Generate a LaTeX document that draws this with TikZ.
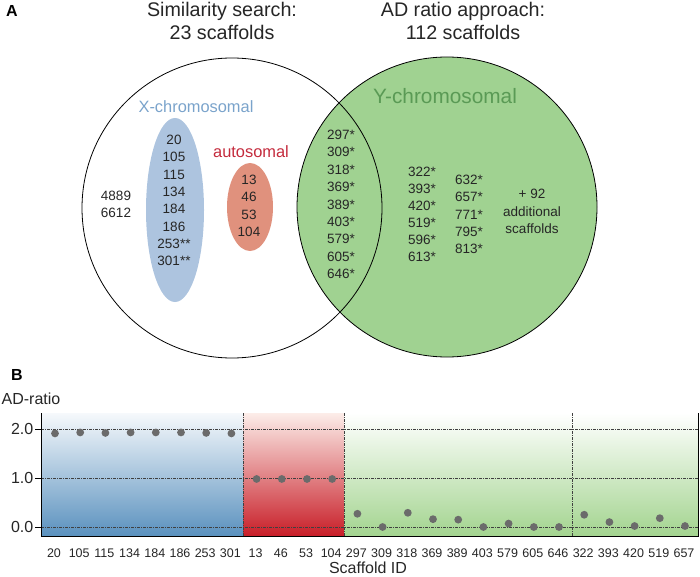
\documentclass[tikz,border=0pt]{standalone}
\usepackage{fontspec}
\setmainfont{Liberation Sans}
\definecolor{vgreen}{HTML}{A0D291}
\definecolor{xblue}{HTML}{ADC4DF}
\definecolor{aorange}{HTML}{E0917D}
\definecolor{xlab}{HTML}{7AA3CB}
\definecolor{alab}{HTML}{C42A3C}
\definecolor{ylab}{HTML}{5A9A55}
\definecolor{bluetop}{HTML}{F6F9FC}
\definecolor{bluebot}{HTML}{5A91BE}
\definecolor{redtop}{HTML}{FCEDE9}
\definecolor{redbot}{HTML}{C81E28}
\definecolor{greenbot}{HTML}{A3D48F}
\definecolor{dotgray}{HTML}{6B6B6B}
\definecolor{gridgray}{HTML}{404040}
\begin{document}
\begin{tikzpicture}[x=1pt,y=-1pt,
  num/.style={font=\fontsize{13.5}{17.3}\selectfont, align=center, inner sep=0pt, text=black!85},
  title/.style={font=\fontsize{19.7}{22}\selectfont, align=center, inner sep=0pt, text=black!85},
  panel/.style={font=\fontsize{16}{18}\selectfont\bfseries, inner sep=0pt},
  grid/.style={gridgray, line width=0.6pt, dash pattern=on 3pt off 1pt on 1pt off 1pt},
  ticklab/.style={font=\fontsize{12.5}{14}\selectfont, inner sep=0pt, text=black!85},
  axlab/.style={font=\fontsize{16}{18}\selectfont, inner sep=0pt, text=black!85},
  dot/.style={fill=dotgray}
]
\useasboundingbox (0,0) rectangle (700,577);

% ---------- Panel A ----------
\node[panel, anchor=center] (A) at (12,11) {A};
\node[title] (t1) at (222,21) {Similarity search:\\[1pt]23 scaffolds};
\node[title] (t2) at (463,21) {AD ratio approach:\\[1pt]112 scaffolds};

\fill[vgreen] (447,207) circle (150pt);
\fill[xblue] (175,210) ellipse [x radius=29pt, y radius=92pt];
\fill[aorange] (250,207) ellipse [x radius=23pt, y radius=44pt];
\draw[black, line width=0.8pt] (232,208) circle (150pt);
\draw[black, line width=0.8pt] (447,207) circle (150pt);

\node[font=\fontsize{16.4}{18}\selectfont, text=xlab, inner sep=0pt] (xl) at (196,107) {X-chromosomal};
\node[font=\fontsize{16.4}{18}\selectfont, text=alab, inner sep=0pt] (al) at (251,152) {autosomal};
\node[font=\fontsize{20.8}{22}\selectfont, text=ylab, inner sep=0pt] (yl) at (445,96) {Y-chromosomal};

\node[num] (xlist) at (174,200.5) {20\\105\\115\\134\\184\\186\\253**\\301**};
\node[num] (alist) at (249,206) {13\\46\\53\\104};
\node[num] (olist) at (116,204.5) {4889\\6612};
\node[num, font=\fontsize{13.5}{17.4}\selectfont] (ovl) at (341,204.5) {297*\\309*\\318*\\369*\\389*\\403*\\579*\\605*\\646*};
\node[num, font=\fontsize{13.5}{17}\selectfont] (c2) at (422,214.5) {322*\\393*\\420*\\519*\\596*\\613*};
\node[num, font=\fontsize{13.5}{17.2}\selectfont] (c3) at (469,214.5) {632*\\657*\\771*\\795*\\813*};
\node[num] (c4) at (532,211.5) {+ 92\\additional\\scaffolds};

% ---------- Panel B ----------
\node[panel] (B) at (17,375) {B};
\node[axlab] (ylabel) at (31,399) {AD-ratio};

\shade[top color=bluetop, bottom color=bluebot] (41,413) rectangle (243,536);
\shade[top color=redtop, bottom color=redbot] (243,413) rectangle (344,536);
\shade[top color=white, bottom color=greenbot] (344,413) rectangle (698.5,536);

\foreach \yy in {429,478,527} \draw[grid] (41,\yy) -- (698.5,\yy);
\foreach \xx in {243,344,572} \draw[grid] (\xx,413) -- (\xx,536);

\draw[black, line width=1pt] (41,413) -- (41,536) -- (698.5,536) -- (698.5,413);
\foreach \yy/\lab in {429/2.0,478/1.0,527/0.0}{
  \draw[black, line width=0.8pt] (35,\yy) -- (41,\yy);
  \node[axlab, anchor=east] (y\lab) at (33.5,\yy) {\lab};
}

\foreach \v [count=\i from 0] in {1.91,1.93,1.92,1.93,1.93,1.93,1.92,1.91,0.98,0.98,0.98,0.98,0.27,0.0,0.29,0.16,0.15,0.0,0.07,0.0,0.0,0.25,0.10,0.02,0.18,0.02}
  \fill[dot] ({55+25.2*\i},{527-49*\v}) circle (3.9pt);

\foreach \lab [count=\i from 0] in {20,105,115,134,184,186,253,301,13,46,53,104,297,309,318,369,389,403,579,605,646,322,393,420,519,657}
  \node[ticklab] (tx\i) at ({54+25.2*\i},553) {\lab};

\node[axlab] (xlabel) at (368,568) {Scaffold ID};
\end{tikzpicture}
\end{document}
